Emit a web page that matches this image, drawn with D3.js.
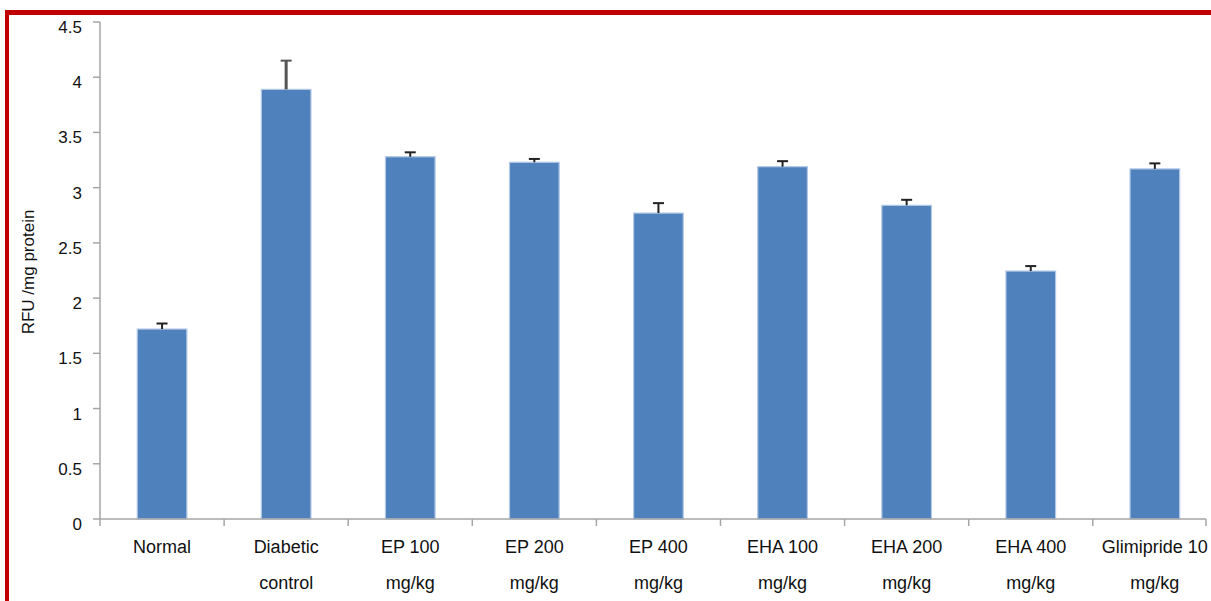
<!DOCTYPE html>
<html>
<head>
<meta charset="utf-8">
<script src="https://cdn.jsdelivr.net/npm/d3@7"></script>
<style>
  body { margin: 0; background: #fff; }
  svg { display: block; font-family: 'Liberation Sans', Arial, sans-serif; }
</style>
</head>
<body>
<div id="chart"></div>
<script>
const categories = ['Normal', 'Diabetic control', 'EP 100 mg/kg', 'EP 200 mg/kg', 'EP 400 mg/kg',
  'EHA 100 mg/kg', 'EHA 200 mg/kg', 'EHA 400 mg/kg', 'Glimipride 10 mg/kg']
const labelLines = [['Normal'], ['Diabetic', 'control'], ['EP 100', 'mg/kg'], ['EP 200', 'mg/kg'],
  ['EP 400', 'mg/kg'], ['EHA 100', 'mg/kg'], ['EHA 200', 'mg/kg'], ['EHA 400', 'mg/kg'], ['Glimipride 10', 'mg/kg']]
const values = [1.72, 3.89, 3.28, 3.23, 2.77, 3.19, 2.84, 2.245, 3.17]
const errors = [0.05, 0.26, 0.04, 0.03, 0.09, 0.05, 0.05, 0.045, 0.05]
const yTicks = [0, 0.5, 1, 1.5, 2, 2.5, 3, 3.5, 4, 4.5]

const width = 1211
const height = 601
const x0 = 100
const xEnd = 1206
const yTop = 22
const yBase = 519

const svg = d3.select('#chart').append('svg').attr('width', width).attr('height', height)
svg.append('rect').attr('width', width).attr('height', height).attr('fill', '#fff')

const y = d3.scaleLinear().domain([0, 4.5]).range([yBase, yTop])
const x = d3.scaleBand().domain(categories).range([x0, x0 + 124.1 * 9]).paddingInner(0.6).paddingOuter(0.3)
const xSlots = d3.scaleBand().domain(categories).range([x0, x0 + 124.1 * 9])

// y axis
const yAxis = svg.append('g')
yAxis.append('line').attr('x1', x0).attr('x2', x0).attr('y1', yTop).attr('y2', yBase)
  .attr('stroke', '#a6a6a6').attr('stroke-width', 1.5)
yAxis.selectAll('.tick').data(yTicks).enter().append('line')
  .attr('x1', x0 - 7).attr('x2', x0).attr('y1', d => y(d)).attr('y2', d => y(d))
  .attr('stroke', '#a6a6a6').attr('stroke-width', 1.5)
yAxis.selectAll('text').data(yTicks).enter().append('text')
  .attr('x', 82).attr('y', d => y(d) + 11)
  .attr('text-anchor', 'end').attr('font-size', 17).attr('fill', '#111')
  .text(d => d)

// bars
svg.selectAll('rect.bar').data(values).enter().append('rect')
  .attr('class', 'bar')
  .attr('x', (d, i) => x(categories[i]))
  .attr('y', d => y(d))
  .attr('width', x.bandwidth())
  .attr('height', d => yBase - y(d))
  .attr('fill', '#4f81bd')
  .attr('stroke', '#b3c9e6').attr('stroke-width', 1.2)

// error bars (upper only)
const err = svg.append('g')
values.forEach((v, i) => {
  const cx = x(categories[i]) + x.bandwidth() / 2
  const c = i === 1 ? '#555' : '#222'
  err.append('line').attr('x1', cx).attr('x2', cx).attr('y1', y(v)).attr('y2', y(v + errors[i]))
    .attr('stroke', c).attr('stroke-width', i === 1 ? 3 : 2)
  err.append('line').attr('x1', cx - 5.5).attr('x2', cx + 5.5)
    .attr('y1', y(v + errors[i])).attr('y2', y(v + errors[i]))
    .attr('stroke', c).attr('stroke-width', 2)
})

// x axis
const xAxis = svg.append('g')
xAxis.append('line').attr('x1', x0).attr('x2', xEnd).attr('y1', yBase).attr('y2', yBase)
  .attr('stroke', '#a6a6a6').attr('stroke-width', 1.5)
const tickXs = categories.map(c => xSlots(c)).concat([xEnd])
xAxis.selectAll('.xt').data(tickXs).enter().append('line')
  .attr('x1', d => d).attr('x2', d => d).attr('y1', yBase).attr('y2', yBase + 7)
  .attr('stroke', '#a6a6a6').attr('stroke-width', 1.5)

const labels = xAxis.selectAll('text').data(labelLines).enter().append('text')
  .attr('text-anchor', 'middle').attr('font-size', 18).attr('fill', '#111')
labels.selectAll('tspan').data((d, i) => d.map(t => ({ t, i }))).enter().append('tspan')
  .attr('x', d => xSlots(categories[d.i]) + xSlots.bandwidth() / 2)
  .attr('y', (d, j) => 553 + j * 36)
  .text(d => d.t)

// y label
svg.append('text')
  .attr('transform', 'translate(34,272) rotate(-90)')
  .attr('text-anchor', 'middle').attr('font-size', 17).attr('fill', '#111')
  .text('RFU /mg protein')

// red frame (left and top)
svg.append('rect').attr('x', 5).attr('y', 10).attr('width', 4).attr('height', height - 10).attr('fill', '#c00000')
svg.append('rect').attr('x', 5).attr('y', 10).attr('width', width - 5).attr('height', 5).attr('fill', '#c00000')
</script>
</body>
</html>
